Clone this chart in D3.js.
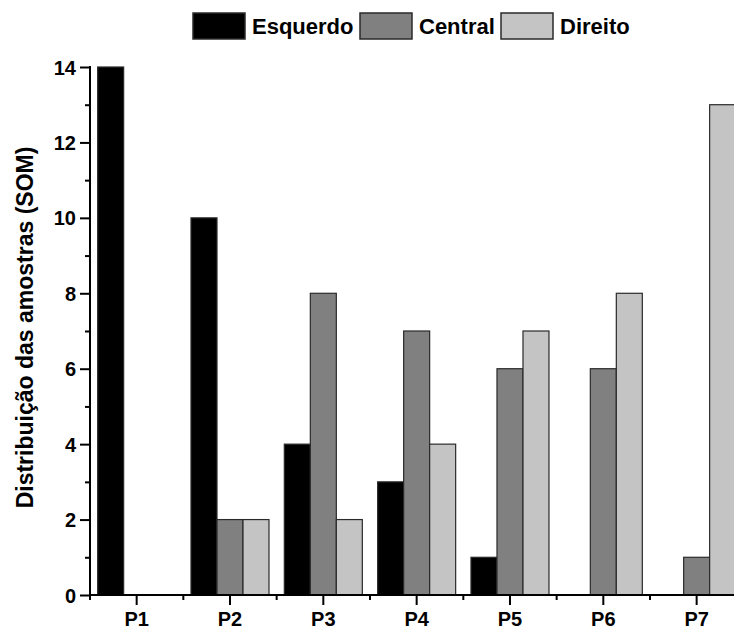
<!DOCTYPE html>
<html>
<head>
<meta charset="utf-8">
<script src="https://cdn.jsdelivr.net/npm/d3@7"></script>
<style>
  html, body { margin: 0; padding: 0; background: #fff; }
  svg { display: block; }
  text { font-family: "Liberation Sans", Arial, sans-serif; font-weight: bold; fill: #000; }
</style>
</head>
<body>
<svg id="chart" width="734" height="630"></svg>
<script>
// Sample distribution per position, split by side
const categories = ["P1", "P2", "P3", "P4", "P5", "P6", "P7"];
const seriesNames = ["Esquerdo", "Central", "Direito"];
const esquerdo = [14, 10, 4, 3, 1, 0, 0];
const central  = [0, 2, 8, 7, 6, 6, 1];
const direito  = [0, 2, 2, 4, 7, 8, 13];
const yTicks = [0, 2, 4, 6, 8, 10, 12, 14];
const yMinorTicks = [1, 3, 5, 7, 9, 11, 13];
const yTitle = "Distribuição das amostras (SOM)";

const seriesValues = [esquerdo, central, direito];
const colors = ["#000000", "#808080", "#c4c4c4"];

const svg = d3.select("#chart");
const W = 734, H = 630;
const plotLeft = 90, plotBottom = 595, plotTop = 67;
const band = 93.33;
const groupWidth = 78;

const x0 = d3.scaleBand()
  .domain(categories)
  .range([plotLeft, plotLeft + band * categories.length])
  .paddingInner(0).paddingOuter(0);

const bw = x0.bandwidth();
const x1 = d3.scaleBand()
  .domain(seriesNames)
  .range([(bw - groupWidth) / 2, (bw + groupWidth) / 2])
  .padding(0);

const y = d3.scaleLinear().domain([0, 14]).range([plotBottom, plotTop]);
const color = d3.scaleOrdinal().domain(seriesNames).range(colors);

// Bars
const rows = categories.map((c, i) => ({
  cat: c,
  vals: seriesNames.map((s, j) => ({ s, v: seriesValues[j][i] }))
}));

const groups = svg.append("g").selectAll("g")
  .data(rows).join("g")
  .attr("transform", d => `translate(${x0(d.cat)},0)`);

groups.selectAll("rect")
  .data(d => d.vals.filter(e => e.v > 0))
  .join("rect")
  .attr("x", d => x1(d.s))
  .attr("y", d => y(d.v))
  .attr("width", x1.bandwidth())
  .attr("height", d => y(0) - y(d.v))
  .attr("fill", d => color(d.s))
  .attr("stroke", "#2a2a2a")
  .attr("stroke-width", 1.2);

// Y axis
const yAxis = d3.axisLeft(y).tickValues(yTicks).tickSize(10).tickPadding(4)
  .tickFormat(d3.format("d"));
const gy = svg.append("g").attr("transform", `translate(${plotLeft},0)`).call(yAxis);
gy.select(".domain").remove();
gy.selectAll(".tick line").attr("stroke", "#000").attr("stroke-width", 2);
gy.selectAll(".tick text").style("font-size", "20px").attr("dy", "0.35em");

const gyMinor = svg.append("g").attr("transform", `translate(${plotLeft},0)`)
  .call(d3.axisLeft(y).tickValues(yMinorTicks).tickSize(5).tickFormat(""));
gyMinor.select(".domain").remove();
gyMinor.selectAll(".tick line").attr("stroke", "#000").attr("stroke-width", 2);

svg.append("line")
  .attr("x1", plotLeft).attr("x2", plotLeft)
  .attr("y1", plotTop - 1).attr("y2", plotBottom + 1)
  .attr("stroke", "#000").attr("stroke-width", 2);

// X axis
const xAxis = d3.axisBottom(x0).tickSize(10).tickPadding(7);
const gx = svg.append("g").attr("transform", `translate(0,${plotBottom})`).call(xAxis);
gx.select(".domain").remove();
gx.selectAll(".tick line").attr("stroke", "#000").attr("stroke-width", 2);
gx.selectAll(".tick text").style("font-size", "20px");

// Minor ticks on band boundaries
const boundaries = categories.map(c => x0(c));
svg.append("g").selectAll("line")
  .data(boundaries).join("line")
  .attr("x1", d => d).attr("x2", d => d)
  .attr("y1", plotBottom).attr("y2", plotBottom + 5)
  .attr("stroke", "#000").attr("stroke-width", 2);

svg.append("line")
  .attr("x1", plotLeft - 1).attr("x2", W)
  .attr("y1", plotBottom).attr("y2", plotBottom)
  .attr("stroke", "#000").attr("stroke-width", 2);

// Y axis title
svg.append("text")
  .attr("transform", `translate(33,${(148 + 507) / 2}) rotate(-90)`)
  .attr("text-anchor", "middle")
  .style("font-size", "23px")
  .text(yTitle);

// Legend
const legendX = [193, 360, 501];
const legend = svg.append("g").selectAll("g")
  .data(seriesNames).join("g")
  .attr("transform", (d, i) => `translate(${legendX[i]},13)`);
legend.append("rect")
  .attr("width", 52).attr("height", 26)
  .attr("fill", d => color(d))
  .attr("stroke", "#2a2a2a").attr("stroke-width", 1.5);
legend.append("text")
  .attr("x", 59).attr("y", 21)
  .style("font-size", "22px")
  .text(d => d);
</script>
</body>
</html>
